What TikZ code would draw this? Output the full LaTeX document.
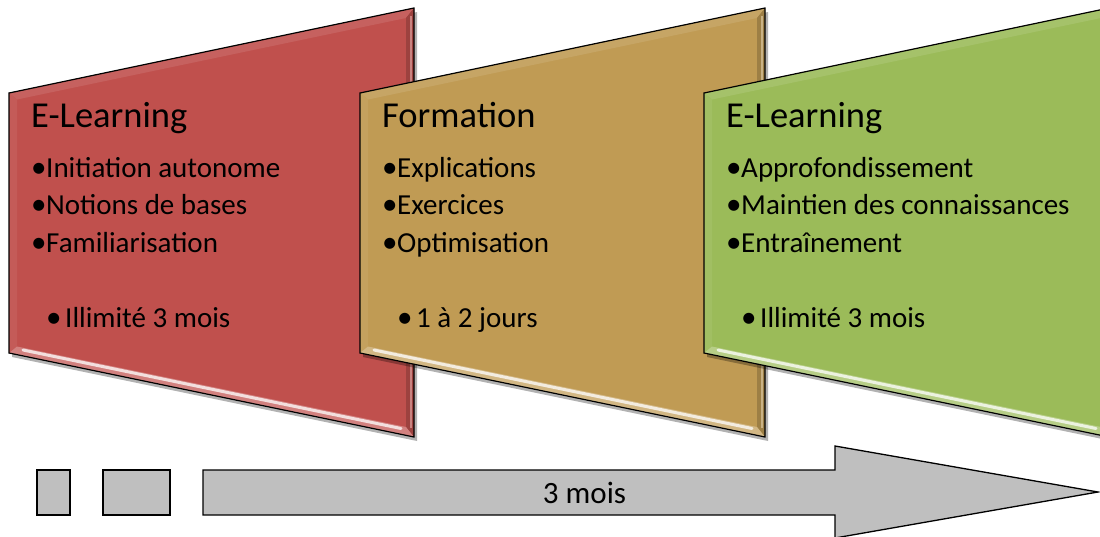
\documentclass[tikz,border=0pt]{standalone}
\usepackage{fontspec}
\setmainfont{Carlito}
\definecolor{pred}{HTML}{C0504D}
\definecolor{ptan}{HTML}{C09B54}
\definecolor{pgreen}{HTML}{9BBB59}
\definecolor{agray}{HTML}{BFBFBF}
\tikzset{
  titletext/.style={anchor=base west, inner sep=0pt, font=\fontsize{36.5}{40}\selectfont},
  itemtext/.style={anchor=base west, inner sep=0pt, font=\fontsize{29}{32}\selectfont},
  dottext/.style={anchor=base west, inner sep=0pt, font=\fontsize{31}{32}\selectfont},
  outline/.style={draw=black, line width=1.2pt, line join=miter},
  arrowpart/.style={fill=agray, draw=black, line width=1.3pt},
}
% #1 prefix, #2 xshift, #3 colour, #4 title, #5-#7 items, #8 duration
\newcommand\mypanel[8]{%
\begin{scope}[shift={(#2,0)}]
  \fill[black, opacity=.30] (3,97) -- (408,12) -- (408,441) -- (3,357) -- cycle;
  \fill[#3] (0,93) -- (405,8) -- (405,437) -- (0,353) -- cycle;
  \fill[#3!90!white] (0,93) -- (405,8) -- (397,18) -- (8,99.5) -- cycle;
  \fill[#3!94!white] (0,93) -- (8,99.5) -- (8,346.5) -- (0,353) -- cycle;
  \fill[#3!82!black] (405,8) -- (405,437) -- (397,427) -- (397,18) -- cycle;
  \draw[#3!55!white, line width=2pt, opacity=.7] (401.5,16) -- (401.5,428);
  \fill[#3!72!white] (0,353) -- (405,437) -- (397,427) -- (8,346.5) -- cycle;
  \draw[white, line width=3pt, opacity=.75, line cap=round] (14,350) -- (392,428.5);
  \draw[outline] (0,93) -- (405,8) -- (405,437) -- (0,353) -- cycle;
  \node[titletext] (#1t) at (22,127) {#4};
  \node[dottext] (#1d1) at (22,177) {•};
  \node[itemtext] (#1i1) at (37,177) {#5};
  \node[dottext] (#1d2) at (22,214.5) {•};
  \node[itemtext] (#1i2) at (37,214.5) {#6};
  \node[dottext] (#1d3) at (22,252) {•};
  \node[itemtext] (#1i3) at (37,252) {#7};
  \node[dottext] (#1d4) at (37,327) {•};
  \node[itemtext] (#1i4) at (56,327) {#8};
\end{scope}}
\begin{document}
\begin{tikzpicture}[x=1pt, y=-1pt]
\useasboundingbox (0,0) rectangle (1100,536);
\clip (0,0) rectangle (1100,536);
\mypanel{a}{9}{pred}{E-Learning}{Initiation autonome}{Notions de bases}{Familiarisation}{Illimité 3 mois}
\mypanel{b}{360}{ptan}{Formation}{Explications}{Exercices}{Optimisation}{1 à 2 jours}
\mypanel{c}{704}{pgreen}{E-Learning}{Approfondissement}{Maintien des connaissances}{Entraînement}{Illimité 3 mois}
% timeline
\draw[arrowpart] (37,470) rectangle (70,515);
\draw[arrowpart] (103,470) rectangle (170,515);
\draw[arrowpart, line join=miter] (203,470) -- (835,470) -- (835,446) -- (1098,492) -- (835,538) -- (835,515) -- (203,515) -- cycle;
\node[inner sep=0pt, font=\fontsize{31}{34}\selectfont] (lab) at (584.5,493) {3 mois};
\end{tikzpicture}
\end{document}
